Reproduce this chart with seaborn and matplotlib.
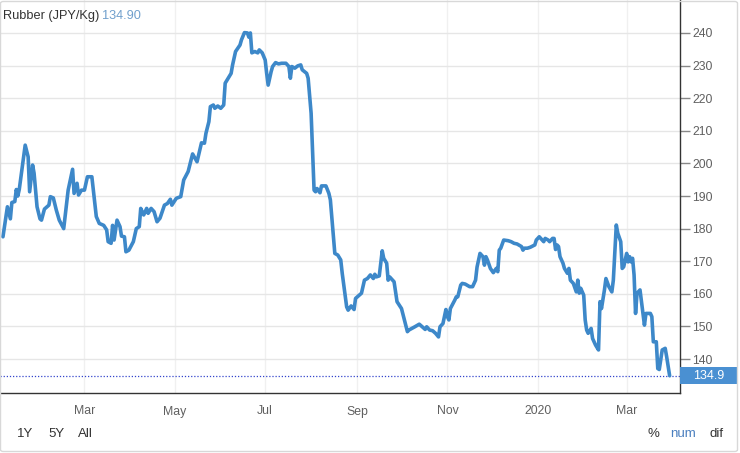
import numpy as np
import pandas as pd
import matplotlib
matplotlib.use("Agg")
import matplotlib.pyplot as plt
from matplotlib.patches import Rectangle, FancyBboxPatch
import matplotlib.transforms as mtransforms
import seaborn as sns

# ---- data ----
start_date = "2019-01-01"
day_offset = [4, 7, 9, 10, 12, 13, 14, 15, 19, 21, 22, 24, 25, 27, 29, 30, 32, 35, 36, 38,
              40, 42, 45, 48, 51, 52, 54, 55, 57, 59, 61, 64, 65, 67, 69, 72, 74, 75, 77, 78,
              79, 81, 83, 84, 86, 87, 89, 92, 94, 96, 97, 99, 101, 102, 104, 106, 108, 110, 113, 115,
              117, 118, 121, 124, 126, 129, 132, 135, 138, 140, 141, 143, 144, 146, 147, 149, 151, 153, 154, 156,
              158, 159, 161, 164, 165, 167, 169, 170, 171, 172, 174, 176, 177, 179, 181, 182, 183, 185, 186, 188,
              190, 192, 195, 197, 198, 199, 201, 203, 205, 206, 209, 210, 212, 214, 215, 216, 218, 219, 222, 224,
              225, 228, 230, 232, 233, 236, 237, 239, 241, 242, 246, 248, 250, 252, 254, 255, 256, 258, 260, 261,
              263, 264, 265, 268, 270, 273, 275, 277, 278, 282, 285, 287, 289, 290, 292, 294, 296, 298, 299, 301,
              303, 304, 305, 306, 309, 310, 311, 313, 314, 316, 319, 321, 323, 324, 326, 328, 329, 330, 331, 333,
              335, 337, 338, 339, 340, 342, 345, 347, 349, 351, 354, 355, 356, 358, 360, 363, 364, 366, 367, 369,
              370, 372, 373, 375, 376, 377, 378, 379, 380, 382, 383, 385, 386, 387, 389, 391, 392, 393, 394, 396,
              397, 398, 399, 401, 402, 404, 406, 407, 408, 410, 411, 413, 415, 416, 418, 419, 421, 422, 423, 425,
              426, 427, 428, 429, 430, 431, 432, 434, 436, 437, 438, 441, 442, 443, 445, 446, 447, 449, 451, 452,
              454]
price = [177.5, 186.7, 183.0, 188.0, 188.3, 192.0, 190.0, 192.0, 205.6, 202.0, 191.3, 199.5, 197.0, 186.7, 183.0, 182.6, 186.0, 187.2, 189.8, 189.4,
         185.7, 182.6, 180.0, 191.8, 198.2, 190.8, 193.9, 190.3, 191.8, 191.8, 195.9, 195.9, 191.8, 183.7, 181.6, 181.0, 179.6, 176.0, 175.5, 181.0,
         176.5, 182.6, 180.6, 177.7, 177.5, 172.9, 173.4, 176.0, 180.0, 180.6, 186.2, 184.2, 186.2, 184.7, 186.2, 185.2, 182.1, 183.2, 187.2, 187.7,
         189.0, 187.2, 189.3, 189.8, 194.9, 197.5, 202.9, 200.5, 206.3, 206.2, 209.2, 212.8, 217.4, 217.9, 216.9, 217.6, 216.9, 217.9, 224.6, 226.1,
         227.6, 230.2, 234.3, 236.3, 237.9, 240.1, 240.0, 238.7, 240.0, 233.9, 234.3, 233.9, 234.8, 233.9, 231.7, 227.6, 224.0, 228.1, 229.7, 230.9,
         230.5, 230.7, 230.7, 229.7, 226.1, 229.7, 229.2, 229.9, 230.2, 228.7, 227.6, 226.1, 215.4, 191.8, 191.3, 192.3, 191.0, 193.1, 193.1, 190.8,
         188.8, 172.4, 171.9, 170.4, 166.3, 156.0, 155.0, 156.3, 155.2, 158.6, 160.2, 164.2, 164.7, 165.8, 164.7, 166.0, 165.2, 165.5, 173.2, 170.9,
         169.4, 164.2, 165.2, 163.7, 157.6, 155.5, 152.0, 148.4, 148.9, 149.9, 150.7, 149.9, 149.1, 149.9, 148.9, 148.7, 147.9, 146.8, 149.9, 150.9,
         155.2, 153.0, 152.0, 155.5, 158.1, 159.1, 159.1, 162.7, 163.2, 163.0, 162.2, 162.2, 164.2, 168.2, 172.4, 171.4, 168.8, 171.4, 170.4, 167.8,
         166.5, 167.8, 166.8, 173.4, 174.0, 176.5, 176.3, 176.0, 175.5, 175.3, 174.5, 173.4, 174.0, 174.0, 174.3, 175.0, 176.5, 177.5, 177.0, 176.0,
         177.0, 176.5, 176.0, 177.0, 177.0, 173.6, 175.0, 174.5, 171.4, 169.4, 167.8, 166.3, 167.8, 164.2, 163.2, 160.6, 164.2, 160.2, 161.7, 159.6,
         152.0, 148.9, 147.9, 149.4, 146.3, 144.3, 142.8, 157.6, 155.5, 161.2, 164.7, 162.2, 160.6, 164.2, 181.1, 178.6, 176.0, 167.8, 168.3, 172.4,
         169.8, 171.4, 169.8, 170.9, 165.8, 154.0, 160.2, 161.2, 154.0, 150.4, 154.0, 154.0, 153.0, 145.3, 145.3, 137.1, 136.8, 142.8, 143.3, 140.7,
         134.9]
last_price = 134.9
title_text = "Rubber (JPY/Kg)"
title_value = "134.90"
y_ticks = [140, 150, 160, 170, 180, 190, 200, 210, 220, 230, 240]
x_tick_dates = ["2019-03-01", "2019-05-01", "2019-07-01", "2019-09-01", "2019-11-01", "2020-01-01", "2020-03-01"]
x_tick_labels = ["Mar", "May", "Jul", "Sep", "Nov", "2020", "Mar"]

df = pd.DataFrame({
    "date": pd.Timestamp(start_date) + pd.to_timedelta(day_offset, unit="D"),
    "price": price,
})

sns.set_theme(style="white")
plt.rcParams["font.family"] = ["Liberation Sans", "DejaVu Sans"]

W, H = 740, 453
fig = plt.figure(figsize=(W / 100, H / 100), dpi=100)
ax = fig.add_axes([0.0, 1 - 393 / H, 680 / W, 393 / H])

LINE = "#3d88c9"
GRAY_TXT = "#606060"
GRID = "#e6e6e6"

sns.lineplot(data=df, x="date", y="price", ax=ax, color=LINE, linewidth=2.6,
             solid_joinstyle="round", solid_capstyle="round", zorder=3)

ax.set_xlim(pd.Timestamp("2019-01-03"), pd.Timestamp("2020-04-06"))
ax.set_ylim(129.6, 250.1)

# grid
ax.set_yticks(y_ticks)
ax.set_xticks(pd.to_datetime(x_tick_dates))
ax.set_xticklabels(x_tick_labels)
ax.grid(True, axis="y", color=GRID, linewidth=1)
ax.grid(True, axis="x", color="#f0f0f0", linewidth=1)
ax.set_axisbelow(True)

# axes/spines
for s in ["top", "left"]:
    ax.spines[s].set_visible(False)
ax.spines["right"].set_color("#333333")
ax.spines["right"].set_linewidth(1)
ax.spines["bottom"].set_color("#333333")
ax.spines["bottom"].set_linewidth(1)

ax.yaxis.tick_right()
ax.tick_params(axis="y", which="both", right=True, left=False, length=7.5, width=1,
               color="#888888", pad=1.5, labelsize=8.8, labelcolor=GRAY_TXT)
ax.tick_params(axis="x", bottom=False, length=0, pad=9, labelsize=8.8, labelcolor=GRAY_TXT)
ax.set_xlabel("")
ax.set_ylabel("")

# dotted last-price line
ax.axhline(last_price, color="#3344cc", linestyle=(0, (1, 1.5)), linewidth=0.9, zorder=2)

# last price box on the right
trans = mtransforms.blended_transform_factory(ax.transAxes, ax.transData)
box_w = 58 / 680
box_h = 17 / 3.26
ax.add_patch(Rectangle((1.0, last_price - box_h / 2), box_w, box_h, transform=trans,
                       facecolor="#4a90d2", edgecolor="none", clip_on=False, zorder=5))
ax.text(1.0 + box_w / 2, last_price, f"{last_price:.1f}", transform=trans, ha="center", va="center",
        color="white", fontsize=9, zorder=6, clip_on=False)

# title
fig.text(3 / W, 1 - 16 / H, title_text, color="#333333", fontsize=9.2, ha="left", va="center")
fig.text(102 / W, 1 - 16 / H, title_value, color="#6f9fcc", fontsize=9.2, ha="left", va="center")

# bottom controls
ctrl_y = 1 - 434 / H
for txt, xp in [("1Y", 17), ("5Y", 48), ("All", 78)]:
    fig.text(xp / W, ctrl_y, txt, color="#333333", fontsize=9.5, ha="left", va="center")
fig.text(648 / W, ctrl_y, "%", color="#333333", fontsize=9.5, ha="left", va="center")
fig.text(670 / W, ctrl_y, "num", color="#4a7fbf", fontsize=9.5, ha="left", va="center")
fig.text(710 / W, ctrl_y, "dif", color="#333333", fontsize=9.5, ha="left", va="center")

# outer border
fig.patches.append(FancyBboxPatch((0.5 / W, 1.5 / H), 737 / W, 450 / H,
                                  boxstyle="round,pad=0,rounding_size=0.004",
                                  transform=fig.transFigure, facecolor="none",
                                  edgecolor="#d8d8d8", linewidth=1, zorder=0))

fig.savefig("out.png", dpi=100)
